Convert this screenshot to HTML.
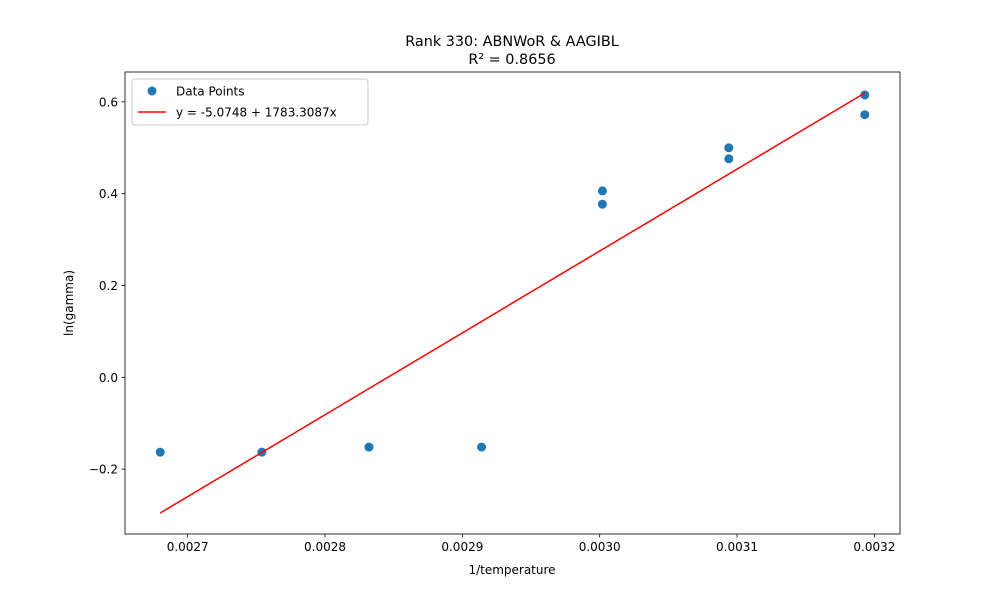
<!DOCTYPE html>
<html><head><meta charset="utf-8"><style>
body{margin:0;background:#fff;}
svg{display:block;font-family:"DejaVu Sans","Liberation Sans",sans-serif;}
</style></head><body>
<svg id="chart" width="1000" height="600" viewBox="0 0 1000 600">
<rect width="1000" height="600" fill="#fff"/>
<text x="512" y="46" text-anchor="middle" font-size="14.4">Rank 330: ABNWoR &amp; AAGIBL</text>
<text x="512" y="64" text-anchor="middle" font-size="14.4">R² = 0.8656</text>
<g id="plot"></g>
<text x="512" y="574" text-anchor="middle" font-size="12">1/temperature</text>
<text transform="translate(73,303) rotate(-90)" text-anchor="middle" font-size="12">ln(gamma)</text>
</svg>
<script>
const xValues = [0.002680, 0.002754, 0.002832, 0.002914, 0.003002, 0.003002, 0.003094, 0.003094, 0.003193, 0.003193];
const yValues = [-0.163, -0.163, -0.152, -0.152, 0.406, 0.377, 0.500, 0.476, 0.615, 0.572];
const intercept = -5.0748;
const slope = 1783.3087;
const xTicks = [0.0027, 0.0028, 0.0029, 0.0030, 0.0031, 0.0032];
const xTickLabels = ["0.0027", "0.0028", "0.0029", "0.0030", "0.0031", "0.0032"];
const yTicks = [-0.2, 0.0, 0.2, 0.4, 0.6];
const yTickLabels = ["−0.2", "0.0", "0.2", "0.4", "0.6"];

const L=125,R=900,T=72,B=534;
const xmin0=Math.min(...xValues), xmax0=Math.max(...xValues);
const yl0=intercept+slope*xmin0, yl1=intercept+slope*xmax0;
const ymin0=Math.min(...yValues,yl0,yl1), ymax0=Math.max(...yValues,yl0,yl1);
const xm=(xmax0-xmin0)*0.05, ym=(ymax0-ymin0)*0.05;
const xmin=xmin0-xm, xmax=xmax0+xm, ymin=ymin0-ym, ymax=ymax0+ym;
const sx=v=>L+(v-xmin)/(xmax-xmin)*(R-L);
const sy=v=>B-(v-ymin)/(ymax-ymin)*(B-T);
const NS="http://www.w3.org/2000/svg";
const g=document.getElementById('plot');
function mk(tag,attrs,parent){const e=document.createElementNS(NS,tag);for(const k in attrs)e.setAttribute(k,attrs[k]);(parent||g).appendChild(e);return e;}

xTicks.forEach((t,i)=>{
  const x=sx(t);
  const tk=mk('line',{x1:x,x2:x,y1:B,y2:B+3.5,stroke:'#000','stroke-width':0.8});
  
  
  const tx=mk('text',{x:x,y:B+17,'text-anchor':'middle','font-size':12});
  tx.textContent=xTickLabels[i];
  
  
});
yTicks.forEach((t,i)=>{
  const y=sy(t);
  const tk=mk('line',{x1:L-3.5,x2:L,y1:y,y2:y,stroke:'#000','stroke-width':0.8});
  
  
  const tx=mk('text',{x:L-7,y:y+4.5,'text-anchor':'end','font-size':12});
  tx.textContent=yTickLabels[i];
  
  
});
xValues.forEach((v,i)=>{
  const c=mk('circle',{cx:sx(v),cy:sy(yValues[i]),r:4.5,fill:'#1f77b4'});
  
  
});
const fit=mk('line',{x1:sx(xmin0),y1:sy(yl0),x2:sx(xmax0),y2:sy(yl1),stroke:'#ff0000','stroke-width':1.5});


const frame=mk('rect',{x:L,y:T,width:R-L,height:B-T,fill:'none',stroke:'#000','stroke-width':0.8});



const lg=mk('g',{});


mk('rect',{x:132,y:79,width:236,height:46,rx:3,fill:'#fff','fill-opacity':0.8,stroke:'#ccc'},lg);
const lc=mk('circle',{cx:152,cy:91,r:4.5,fill:'#1f77b4'},lg);


const lt1=mk('text',{x:176,y:95.5,'font-size':12},lg);
lt1.textContent='Data Points';


const ll=mk('line',{x1:138,x2:166,y1:112,y2:112,stroke:'#ff0000','stroke-width':1.5},lg);


const lt2=mk('text',{x:176,y:116.5,'font-size':12},lg);
lt2.textContent='y = -5.0748 + 1783.3087x';


</script>
</body></html>
